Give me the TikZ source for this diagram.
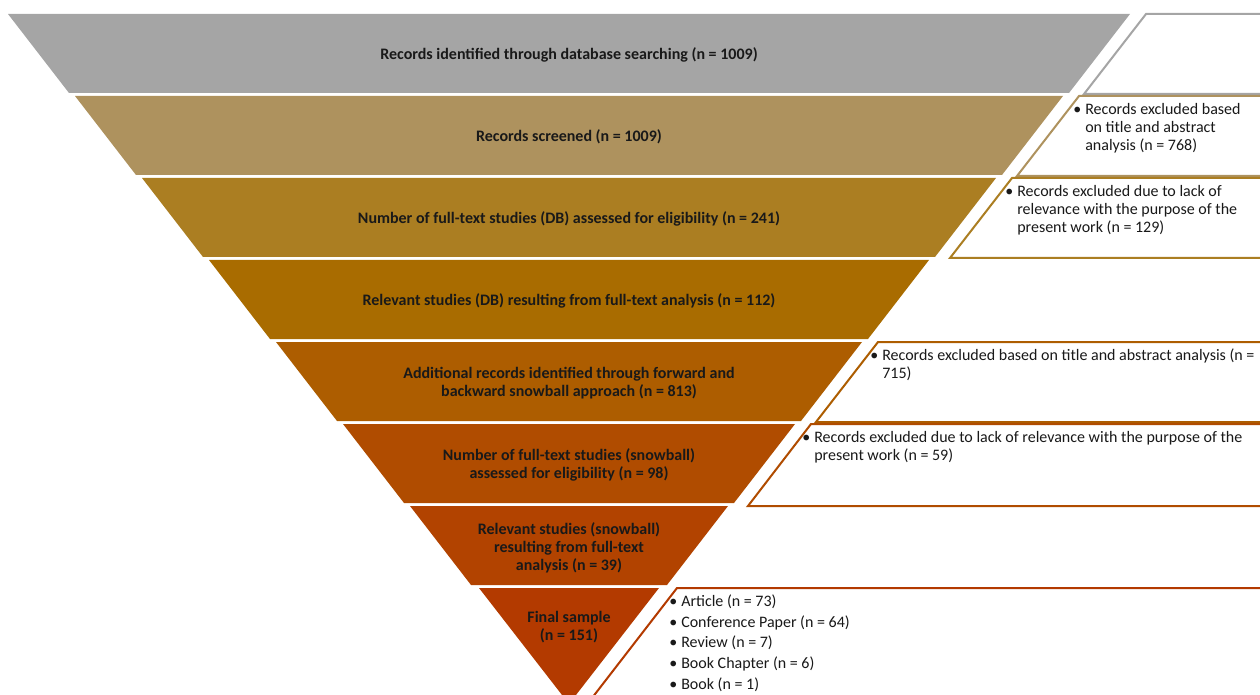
\documentclass[tikz,border=0pt]{standalone}
\usepackage{fontspec}
\setmainfont{Carlito}
\usetikzlibrary{positioning}

\definecolor{bandA}{HTML}{A5A5A5}
\definecolor{bandB}{HTML}{AE925E}
\definecolor{bandC}{HTML}{AB7E22}
\definecolor{bandD}{HTML}{A96C00}
\definecolor{bandE}{HTML}{AD5D00}
\definecolor{bandF}{HTML}{B04C00}
\definecolor{bandG}{HTML}{B24300}
\definecolor{bandH}{HTML}{B33A00}

\begin{document}
\begin{tikzpicture}[x=0.75pt, y=-0.75pt,
    band/.style={font=\bfseries\fontsize{12}{13.5}\selectfont, align=center, text=black!90},
    note/.style={font=\fontsize{12}{13.5}\selectfont, anchor=north west, inner sep=0pt, text=black!90},
    notebox/.style={line width=1.5pt, fill=white}]
    \useasboundingbox (0,0) rectangle (1260,695);
    \clip (0,0) rectangle (1260,695);

    \fill[bandA] (8,14) -- (1130,14) -- (1069,93) -- (69,93) -- cycle;
    \fill[bandB] (75,96) -- (1063,96) -- (1002,175) -- (136,175) -- cycle;
    \fill[bandC] (142,178) -- (996,178) -- (935,257) -- (203,257) -- cycle;
    \fill[bandD] (209,260) -- (929,260) -- (868,339) -- (270,339) -- cycle;
    \fill[bandE] (276,342) -- (862,342) -- (801,421) -- (337,421) -- cycle;
    \fill[bandF] (343,424) -- (795,424) -- (734,503) -- (404,503) -- cycle;
    \fill[bandG] (410,506) -- (728,506) -- (667,585) -- (471,585) -- cycle;
    \fill[bandH] (479,588) -- (659,588) -- (569,704) -- cycle;

    \draw[notebox, draw=bandA] (1146,14) -- (1300,14) -- (1300,94) -- (1084,94) -- cycle;
    \draw[notebox, draw=bandB] (1079,96) -- (1300,96) -- (1300,176) -- (1017,176) -- cycle;
    \draw[notebox, draw=bandC] (1012,178) -- (1300,178) -- (1300,258) -- (950,258) -- cycle;
    \draw[notebox, draw=bandE] (878,342) -- (1300,342) -- (1300,422) -- (816,422) -- cycle;
    \draw[notebox, draw=bandF] (811,424) -- (1300,424) -- (1300,506) -- (748,506) -- cycle;
    \draw[notebox, draw=bandH] (677,588) -- (1300,588) -- (1300,720) -- (575,720) -- cycle;

    \node (ident) [band] at (569,55) {Records identified through database searching (n = 1009)};
    \node (screen) [band] at (569,137) {Records screened (n = 1009)};
    \node (fulldb) [band] at (569,219) {Number of full-text studies (DB) assessed for eligibility (n = 241)};
    \node (reldb) [band] at (569,301) {Relevant studies (DB) resulting from full-text analysis (n = 112)};
    \node (snow) [band] at (569,383) {Additional records identified through forward and\\backward snowball approach (n = 813)};
    \node (fullsnow) [band] at (569,465) {Number of full-text studies (snowball)\\assessed for eligibility (n = 98)};
    \node (relsnow) [band] at (569,547.5) {Relevant studies (snowball)\\resulting from full-text\\analysis (n = 39)};
    \node (final) [band] at (569,627.5) {Final sample\\(n = 151)};

    \node (exscreen) [note] at (1073,102) {\begin{tabular}{@{}l@{}l@{}}
        \makebox[9pt][l]{\textbullet} & Records excluded based\\
        & on title and abstract\\
        & analysis (n = 768)\end{tabular}};
    \node (exfulldb) [note] at (1005,184) {\begin{tabular}{@{}l@{}l@{}}
        \makebox[9pt][l]{\textbullet} & Records excluded due to lack of\\
        & relevance with the purpose of the\\
        & present work (n = 129)\end{tabular}};
    \node (exsnow) [note] at (870,348) {\begin{tabular}{@{}l@{}l@{}}
        \makebox[9pt][l]{\textbullet} & Records excluded based on title and abstract analysis (n =\\
        & 715)\end{tabular}};
    \node (exfullsnow) [note] at (802,430) {\begin{tabular}{@{}l@{}l@{}}
        \makebox[9pt][l]{\textbullet} & Records excluded due to lack of relevance with the purpose of the\\
        & present work (n = 59)\end{tabular}};
    \node (sample) [note] at (669,594) {\begin{tabular}{@{}l@{}l@{}}
        \makebox[9pt][l]{\textbullet} & Article (n = 73)\\[1.9pt]
        \makebox[9pt][l]{\textbullet} & Conference Paper (n = 64)\\[1.9pt]
        \makebox[9pt][l]{\textbullet} & Review (n = 7)\\[1.9pt]
        \makebox[9pt][l]{\textbullet} & Book Chapter (n = 6)\\[1.9pt]
        \makebox[9pt][l]{\textbullet} & Book (n = 1)\end{tabular}};
\end{tikzpicture}
\end{document}
